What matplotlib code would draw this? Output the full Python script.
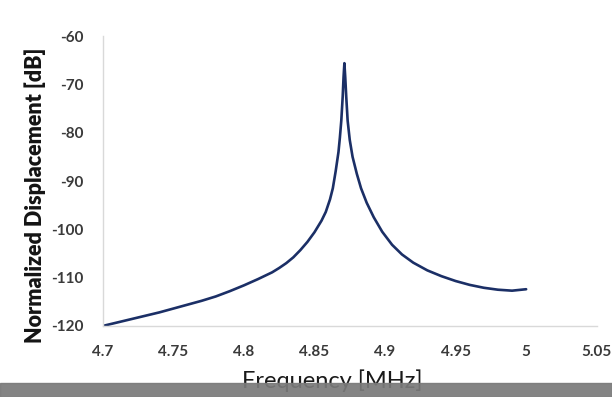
import matplotlib.pyplot as plt
import matplotlib.patches as mpatches

# frequency sweep [MHz] and response [dB]
freq = [4.70, 4.71, 4.72, 4.73, 4.74, 4.75, 4.76, 4.77, 4.78, 4.79,
        4.80, 4.81, 4.82, 4.825, 4.83, 4.835, 4.84, 4.845, 4.85, 4.855,
        4.858, 4.861, 4.863, 4.865, 4.867, 4.868, 4.869, 4.870, 4.8706,
        4.8712, 4.8718, 4.8725, 4.8735, 4.875, 4.877, 4.880, 4.883, 4.887,
        4.892, 4.898, 4.905, 4.912, 4.92, 4.93, 4.94, 4.95, 4.96, 4.97,
        4.98, 4.99, 5.00]
disp_db = [-120.0, -119.3, -118.6, -117.9, -117.2, -116.4, -115.6, -114.8,
           -113.9, -112.8, -111.6, -110.3, -108.9, -108.0, -107.0, -105.8,
           -104.3, -102.6, -100.6, -98.2, -96.4, -93.8, -91.5, -88.0, -84.0,
           -81.0, -77.5, -72.5, -68.5, -65.6, -68.5, -72.5, -77.5, -81.5,
           -85.0, -88.5, -91.5, -94.5, -97.5, -100.5, -103.2, -105.2, -106.9,
           -108.5, -109.7, -110.7, -111.5, -112.1, -112.5, -112.7, -112.4]

xticks = [4.7, 4.75, 4.8, 4.85, 4.9, 4.95, 5, 5.05]
xticklabels = ['4.7', '4.75', '4.8', '4.85', '4.9', '4.95', '5', '5.05']
yticks = [-120, -110, -100, -90, -80, -70, -60]

plt.rcParams['font.family'] = ['Lato', 'DejaVu Sans']
plt.rcParams['axes.unicode_minus'] = False

fig = plt.figure(figsize=(6.12, 3.97), dpi=100)
ax = fig.add_axes([0.168, 0.179, 0.807, 0.730])

ax.plot(freq, disp_db, color='#1b2f66', lw=1.9, solid_capstyle='round',
        solid_joinstyle='round')

ax.set_xlim(4.7, 5.05)
ax.set_ylim(-120, -60)
ax.set_xticks(xticks)
ax.set_xticklabels(xticklabels)
ax.set_yticks(yticks)
ax.tick_params(length=0, labelsize=11, colors='#3a3a3a', pad=14)
for lab in ax.get_xticklabels() + ax.get_yticklabels():
    lab.set_fontweight('bold')

for s in ['top', 'right']:
    ax.spines[s].set_visible(False)
for s in ['left', 'bottom']:
    ax.spines[s].set_color('#d9d9d9')
    ax.spines[s].set_linewidth(1.0)

ax.set_ylabel('Normalized Displacement [dB]', fontsize=15.5, fontweight='heavy',
              color='#141414')
ax.yaxis.set_label_coords(-0.115, 0.45)
fig.text(0.543, 0.040, 'Frequency [MHz]', fontsize=17, ha='center',
         va='center', color='#1a1a1a')

# grey strip across the bottom that partly hides the x label
fig.patches.append(mpatches.Rectangle((0, 0), 1, 14 / 397,
                                      transform=fig.transFigure,
                                      color='#7a7a7a', alpha=0.92, zorder=5))

fig.savefig('out.png', dpi=100)
